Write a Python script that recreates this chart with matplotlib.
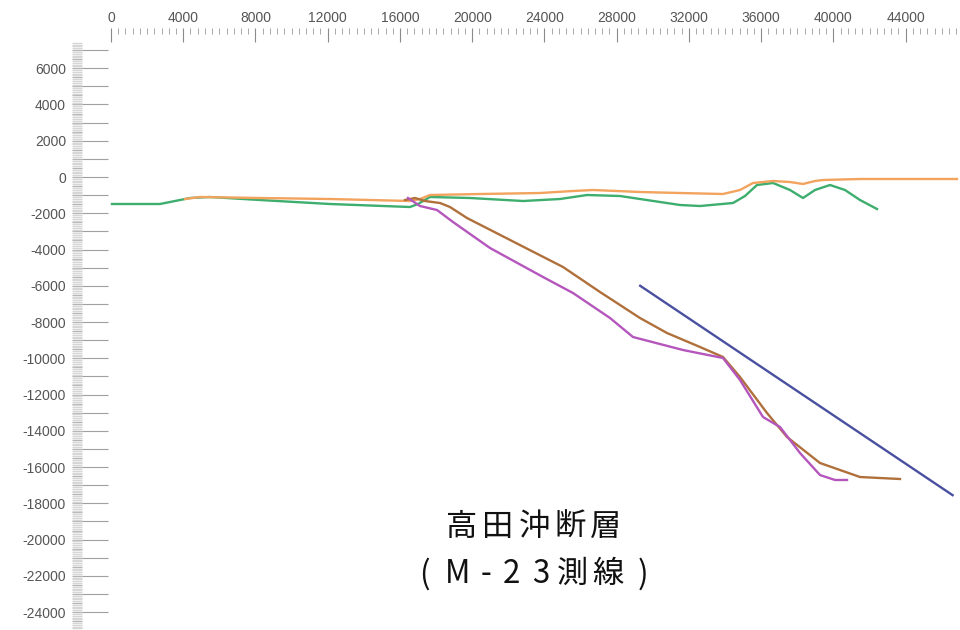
import numpy as np
import matplotlib
matplotlib.use("Agg")
import matplotlib.pyplot as plt
from matplotlib.ticker import FixedLocator, MultipleLocator, FuncFormatter

plt.rcParams['font.family'] = ['Liberation Sans', 'DejaVu Sans']

# Profile traces along survey line M-23 (distance vs. elevation, metres)
green_x = [55, 2713, 3544, 4374, 5482, 8250, 12126, 16556, 16999, 17663, 19878,
           22812, 24861, 26356, 28183, 31506, 32613, 34440, 35104, 35769, 36655,
           37596, 38316, 38980, 39811, 40641, 41472, 42413]
green_y = [-1489, -1489, -1324, -1158, -1103, -1269, -1489, -1655, -1489, -1103,
           -1158, -1324, -1214, -993, -1048, -1544, -1600, -1434, -1048, -441,
           -331, -717, -1158, -717, -441, -717, -1269, -1765]

orange_x = [4097, 4928, 8250, 12126, 16556, 17109, 17663, 20432, 23754, 25581,
            26688, 29291, 31506, 33886, 34828, 35548, 36655, 37596, 38316, 38980,
            39423, 41472, 46843]
orange_y = [-1214, -1103, -1158, -1214, -1324, -1214, -993, -938, -883, -772,
            -717, -827, -883, -938, -717, -331, -221, -276, -386, -221,
            -165, -110, -110]

brown_x = [16279, 16832, 17386, 18217, 18770, 19711, 25027, 27076, 29291, 30786,
           32613, 33886, 34828, 36323, 37430, 39257, 41472, 43687]
brown_y = [-1269, -1158, -1324, -1434, -1655, -2262, -4964, -6343, -7778, -8605,
           -9377, -9929, -11032, -13018, -14342, -15776, -16548, -16658]

purple_x = [16445, 17109, 18050, 18937, 20985, 23920, 25581, 27630, 28903, 31672,
            33886, 34828, 36101, 37042, 38150, 39257, 40087, 40752]
purple_y = [-1158, -1600, -1820, -2482, -3916, -5516, -6399, -7778, -8826, -9543,
            -9984, -11197, -13238, -13790, -15224, -16438, -16713, -16713]

fault_x = [29300, 46600]
fault_y = [-6000, -17550]

x_ticks = list(range(0, 44001, 4000))
title_lines = ["高田沖断層", "(M-23測線)"]

fig = plt.figure(figsize=(9.6, 6.3), dpi=100)
W, H = 960, 630
ax = fig.add_axes([108 / W, 0, 1 - 108 / W, 1 - 28 / H])
ax.set_xlim(-166, 47009)
ax.set_ylim(-24987, 8219)

lw = 1.7
ax.plot(green_x, green_y, color='#3dae6e', lw=lw, zorder=3)
ax.plot(orange_x, orange_y, color='#f2a35e', lw=lw, zorder=4)
ax.plot(brown_x, brown_y, color='#b0703c', lw=lw, zorder=5)
ax.plot(purple_x, purple_y, color='#b456bc', lw=lw, zorder=5)
ax.plot(fault_x, fault_y, color='#4a50a0', lw=lw, zorder=5)

for s in ax.spines.values():
    s.set_visible(False)

# top distance ruler
ax.xaxis.set_ticks_position('top')
ax.xaxis.set_label_position('top')
ax.xaxis.set_major_locator(FixedLocator(x_ticks))
ax.xaxis.set_minor_locator(MultipleLocator(400))
ax.tick_params(axis='x', which='major', direction='in', length=10, width=0.8,
               color='#8a8a8a', labelsize=10, labelcolor='#555555', pad=2)
ax.tick_params(axis='x', which='minor', direction='in', length=4, width=0.7,
               color='#a8a8a8')

# elevation ruler
y_major = list(range(-24000, 7001, 1000))
ax.yaxis.set_major_locator(FixedLocator(y_major))
ax.yaxis.set_major_formatter(FuncFormatter(
    lambda v, p: f"{int(v)}" if int(v) % 2000 == 0 else ""))
ax.tick_params(axis='y', which='major', direction='out', length=18.7, width=0.8,
               color='#a0a0a0', labelsize=10, labelcolor='#555555', pad=11.5)

# dense gray scale strip left of the elevation ticks
sec = ax.secondary_yaxis(-36 / (W - 108))
for s in sec.spines.values():
    s.set_visible(False)
sec.yaxis.set_major_locator(FixedLocator(list(range(-25000, 7401, 500))))
sec.yaxis.set_minor_locator(FixedLocator(list(range(-25000, 7401, 100))))
sec.tick_params(axis='y', which='major', direction='in', length=7.2, width=1.0,
                color='#b4b4b4', labelleft=False, labelright=False)
sec.tick_params(axis='y', which='minor', direction='in', length=7.2, width=1.0,
                color='#d6d6d6')

cjk = ['Noto Sans CJK JP', 'DejaVu Sans']
# first title line: evenly spaced characters
pitch = 36
cx0 = 534 - pitch * (len(title_lines[0]) - 1) / 2
for i, ch in enumerate(title_lines[0]):
    fig.text((cx0 + i * pitch) / W, 1 - 527 / H, ch, fontsize=22.5, ha='center',
             va='center', family=cjk, color='#111111')
# second title line: wide-set characters
centers2 = [424, 458, 486, 511, 541, 572, 608, 643]
for cx, ch in zip(centers2, title_lines[1]):
    fig.text(cx / W, 1 - 574 / H, ch, fontsize=22.5, ha='center',
             va='center', family=cjk, color='#111111')

fig.savefig('out.png', dpi=100, facecolor='white')
